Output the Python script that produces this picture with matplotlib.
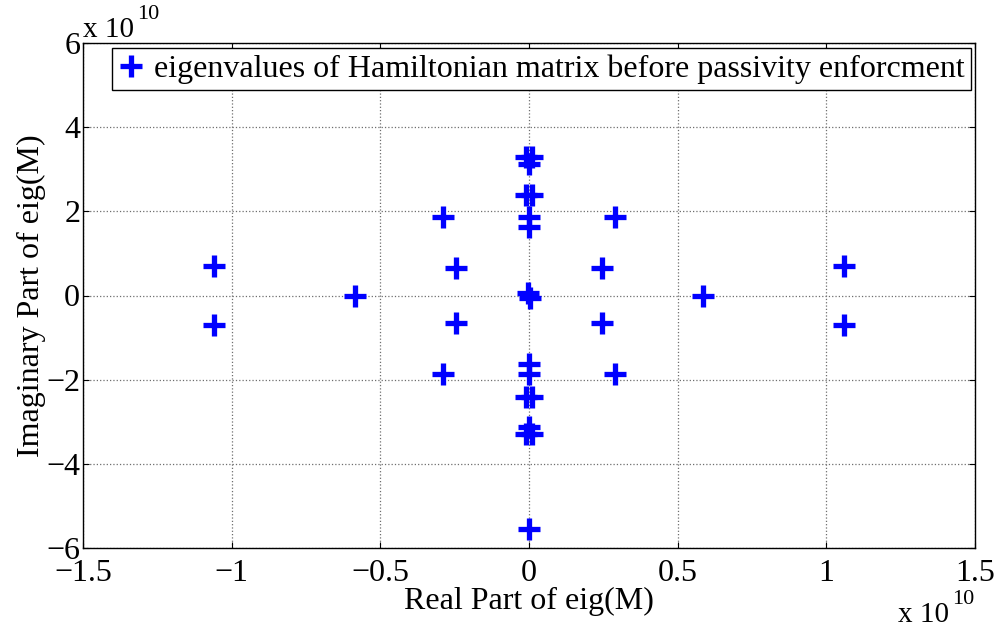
import matplotlib
matplotlib.use("Agg")
import matplotlib.pyplot as plt
from matplotlib.ticker import FuncFormatter

plt.rcParams['font.family'] = ['Liberation Serif', 'DejaVu Serif']

# Eigenvalues of the Hamiltonian matrix (real and imaginary parts)
eig_real = [
    -1.06e10, -1.06e10, 1.06e10, 1.06e10,
    -0.584e10, 0.584e10,
    -0.29e10, -0.29e10, 0.29e10, 0.29e10,
    -0.245e10, -0.245e10, 0.245e10, 0.245e10,
    -0.01e10, 0.01e10, -0.01e10, 0.01e10,
    0.0, 0.0,
    -0.01e10, 0.01e10, -0.01e10, 0.01e10,
    0.0, 0.0, 0.0, 0.0,
    -0.005e10, 0.005e10,
    0.0, 0.0,
]
eig_imag = [
    0.70e10, -0.70e10, 0.70e10, -0.70e10,
    0.0, 0.0,
    1.865e10, -1.865e10, 1.865e10, -1.865e10,
    0.655e10, -0.655e10, 0.655e10, -0.655e10,
    3.29e10, 3.29e10, -3.29e10, -3.29e10,
    3.12e10, -3.12e10,
    2.40e10, 2.40e10, -2.40e10, -2.40e10,
    1.87e10, -1.87e10, 1.63e10, -1.63e10,
    0.06e10, -0.06e10,
    5.55e10, -5.55e10,
]

x_ticks = [-1.5e10, -1.0e10, -0.5e10, 0.0, 0.5e10, 1.0e10, 1.5e10]
y_ticks = [-6e10, -4e10, -2e10, 0.0, 2e10, 4e10, 6e10]

W, H = 999, 630
fig = plt.figure(figsize=(W / 100, H / 100), dpi=100)
ax = fig.add_axes([83 / W, 1 - 548 / H, (975 - 83) / W, (548 - 43) / H])

ax.plot(eig_real, eig_imag, linestyle='none', marker='+', color='#0000ff',
        markersize=16, markeredgewidth=3.8,
        label='eigenvalues of Hamiltonian matrix before passivity enforcment')

ax.set_xlim(x_ticks[0], x_ticks[-1])
ax.set_ylim(y_ticks[0], y_ticks[-1])
ax.set_xticks(x_ticks)
ax.set_yticks(y_ticks)

fmt = FuncFormatter(lambda v, pos: f"{v / 1e10:g}".replace('-', '\u2212'))
ax.xaxis.set_major_formatter(fmt)
ax.yaxis.set_major_formatter(fmt)

ax.tick_params(direction='in', length=4, width=0.8, top=True, right=True,
               labelsize=23, colors='black')
ax.tick_params(axis='x', pad=8)
ax.tick_params(axis='y', pad=2)
ax.grid(True, linestyle=':', color='#6e6e6e', linewidth=0.9)
for s in ax.spines.values():
    s.set_linewidth(1.0)

ax.set_xlabel('Real Part of eig(M)', fontsize=23, labelpad=-1)
ax.set_ylabel('Imaginary Part of eig(M)', fontsize=23, labelpad=0)

leg = ax.legend(loc='upper right', bbox_to_anchor=(971 / W, 1 - 48 / H),
                bbox_transform=fig.transFigure, borderaxespad=0,
                fontsize=23, numpoints=1, handlelength=0.8, handletextpad=0.3,
                borderpad=0.2, fancybox=False, framealpha=1, edgecolor='black')
leg.get_frame().set_linewidth(1.0)
leg.set_zorder(5)

# Exponent labels for both axes
fig.text(83 / W, 1 - 37 / H, 'x 10', fontsize=21, ha='left', va='baseline')
fig.text(137 / W, 1 - 19 / H, '10', fontsize=16, ha='left', va='baseline')
fig.text(898 / W, 1 - 622 / H, 'x 10', fontsize=21, ha='left', va='baseline')
fig.text(952 / W, 1 - 604 / H, '10', fontsize=16, ha='left', va='baseline')

fig.savefig('out.png', dpi=100)
